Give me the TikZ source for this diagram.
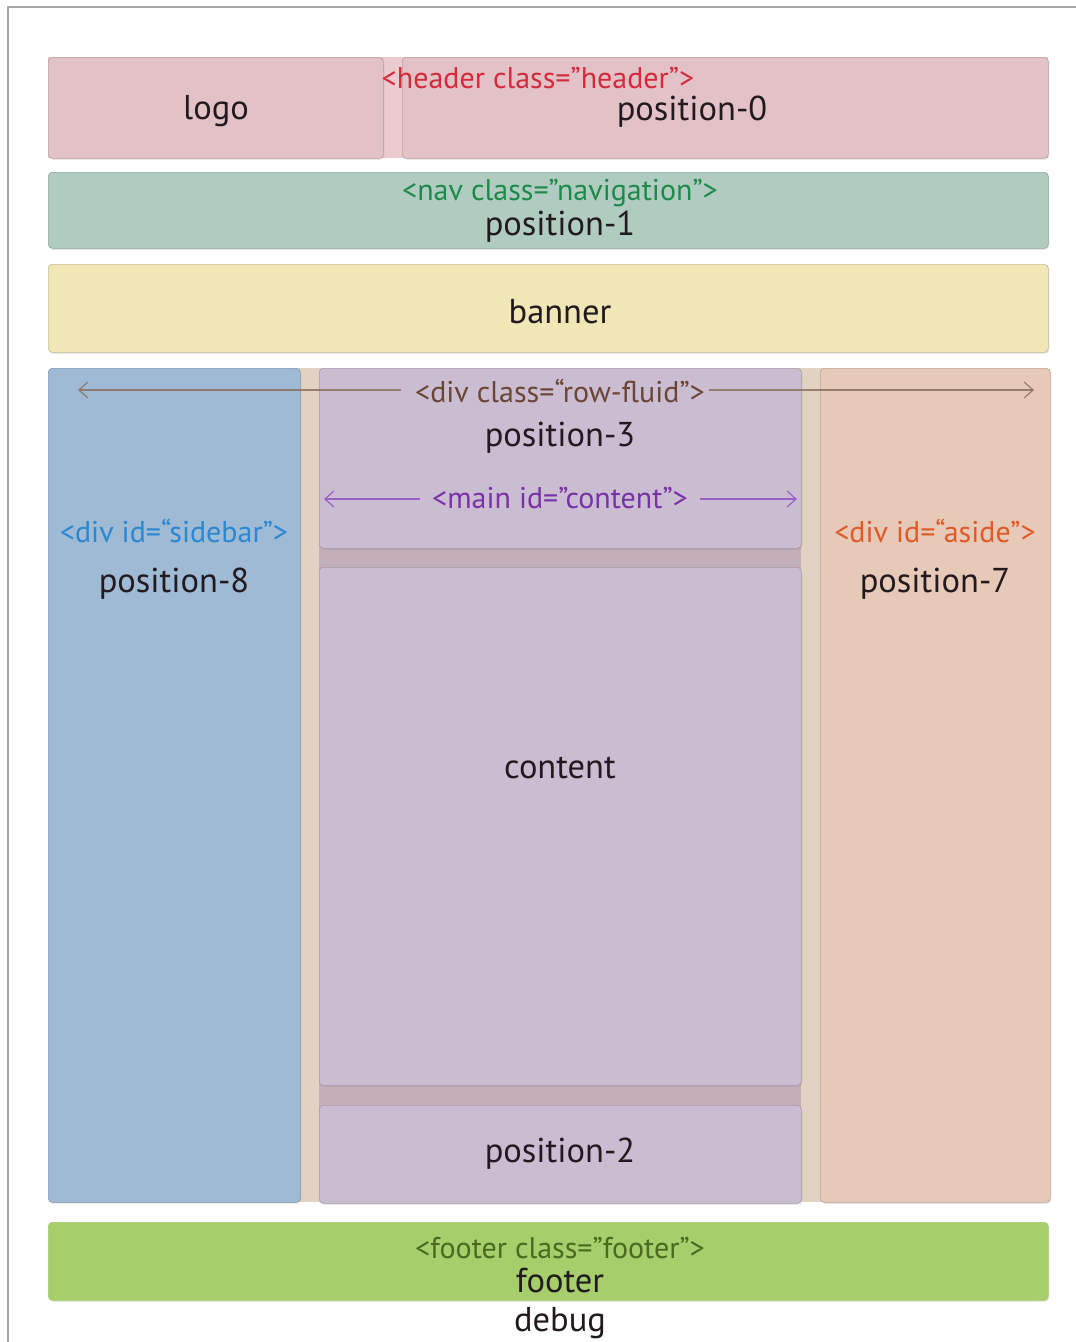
\documentclass[tikz,border=0pt]{standalone}
\usepackage{fontspec}
\setmainfont{PT Sans}
\usetikzlibrary{arrows.meta,shadows}
\definecolor{hdrc}{HTML}{E2C2C6}
\definecolor{hdrbg}{HTML}{EBCBCF}
\definecolor{navc}{HTML}{B0CCC0}
\definecolor{banc}{HTML}{F0E6B6}
\definecolor{sidec}{HTML}{9FBAD4}
\definecolor{purc}{HTML}{CBBDD1}
\definecolor{mainbg}{HTML}{C4AEB9}
\definecolor{asidec}{HTML}{E7C9B8}
\definecolor{footc}{HTML}{A6CF6C}
\definecolor{rowbg}{HTML}{E2D2C2}
\definecolor{tred}{HTML}{D42A3C}
\definecolor{tgreen}{HTML}{1E8A4A}
\definecolor{tbrown}{HTML}{6B4535}
\definecolor{tpurple}{HTML}{7A30A8}
\definecolor{tblue}{HTML}{2A88D0}
\definecolor{torange}{HTML}{E05A28}
\definecolor{tfoot}{HTML}{4A6A20}
\definecolor{arrbrown}{HTML}{8A7060}
\definecolor{arrpurple}{HTML}{9A60C8}
\definecolor{txt}{HTML}{231A20}
\begin{document}
\begin{tikzpicture}[x=1pt,y=-1pt,
  box/.style={draw=#1!82!black, fill=#1, line width=0.6pt, rounded corners=4pt,
    minimum width=0pt, minimum height=0pt, inner sep=0pt, anchor=north west,
    drop shadow={opacity=0.18, shadow xshift=1pt, shadow yshift=-1.5pt}},
  big/.style={font=\fontsize{34.5}{40}\selectfont, text=txt, inner sep=0pt},
  tag/.style={font=\fontsize{30}{34}\selectfont, text=#1, inner sep=0pt},
  tip/.style={-{Straight Barb[length=9pt,width=16pt,line width=1.2pt]}}]
\useasboundingbox (0,0) rectangle (1076,1342);
\fill[white] (0,0) rectangle (1076,1342);
% frame
\draw[gray!70, line width=1.2pt] (8,1342) -- (8,7) -- (1076,7);
% header row
\fill[hdrbg] (48,57) rectangle (1048,158);
\node[box=hdrc, minimum width=335pt, minimum height=101pt] (logo) at (48,57) {};
\node[box=hdrc, minimum width=646pt, minimum height=101pt] (header) at (402,57) {};
\node[big] (logot) at (216,111) {logo};
\node[tag=tred] (headert) at (538,78) {<header class=”header”>};
\node[big] (pos0) at (692,112) {position-0};
% nav
\node[box=navc, minimum width=1000pt, minimum height=76pt] (nav) at (48,172) {};
\node[tag=tgreen] (navt) at (560,193) {<nav class=”navigation”>};
\node[big] (pos1) at (560,227) {position-1};
% banner
\node[box=banc, minimum width=1000pt, minimum height=88pt] (banner) at (48,264) {};
\node[big] (bant) at (560,312) {banner};
% row fluid
\fill[rowbg] (290,368) rectangle (830,1202);
\fill[mainbg] (319,380) rectangle (801,1195);
\node[box=sidec, minimum width=252pt, minimum height=834pt] (sidebar) at (48,368) {};
\node[box=asidec, minimum width=230pt, minimum height=834pt] (aside) at (820,368) {};
\node[box=purc, minimum width=482pt, minimum height=180pt] (pos3box) at (319,368) {};
\node[box=purc, minimum width=482pt, minimum height=518pt] (content) at (319,567) {};
\node[box=purc, minimum width=482pt, minimum height=98pt] (pos2box) at (319,1105) {};
% labels
\node[tag=tbrown] (rowt) at (560,391) {<div class=“row-fluid”>};
\node[big] (pos3) at (560,438) {position-3};
\node[tag=tpurple] (maint) at (560,498) {<main id=”content”>};
\node[tag=tblue] (sidet) at (174,531) {<div id=“sidebar”>};
\node[big] (pos8) at (174,584) {position-8};
\node[tag=torange] (asidet) at (935,531) {<div id=“aside”>};
\node[big] (pos7) at (935,584) {position-7};
\node[big] (contt) at (560,768) {content};
\node[big] (pos2) at (560,1154) {position-2};
% arrows
\coordinate (rowL) at (78,390);
\coordinate (rowR) at (1034,390);
\coordinate (mainL) at (324,499);
\coordinate (mainR) at (797,499);
\draw[tip, arrbrown, line width=1.3pt, opacity=0.85] (rowt.west) ++(-14,-1) -- (rowL);
\draw[tip, arrbrown, line width=1.3pt, opacity=0.85] (rowt.east) ++(4,-1) -- (rowR);
\draw[tip, arrpurple, line width=1.2pt] (maint.west) ++(-12,1) -- (mainL);
\draw[tip, arrpurple, line width=1.2pt] (maint.east) ++(12,1) -- (mainR);
% footer
\node[box=footc, draw=footc, minimum width=1000pt, minimum height=78pt] (footer) at (48,1222) {};
\node[tag=tfoot] (foott) at (560,1248) {<footer class=”footer”>};
\node[big] (footl) at (560,1281) {footer};
\node[big] (debug) at (560,1323) {debug};
\end{tikzpicture}
\end{document}
